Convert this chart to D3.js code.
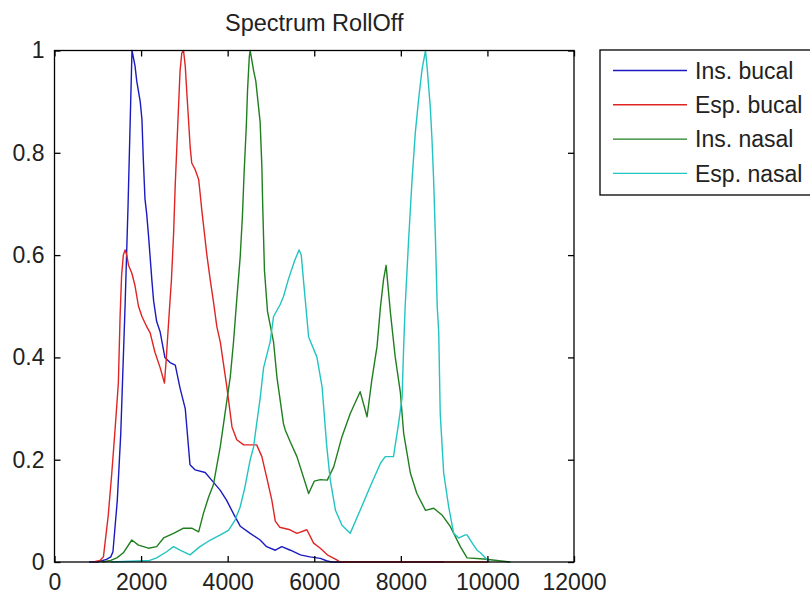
<!DOCTYPE html>
<html>
<head>
<meta charset="utf-8">
<script src="https://d3js.org/d3.v7.min.js"></script>
<style>
    body { margin: 0; background: #fff; }
    text { font-family: "Liberation Sans", Arial, sans-serif; fill: #222; }
</style>
</head>
<body>
<svg></svg>
<script>
    // values: [frequency, normalized value]
    let insBucal = [[800,0],[1000,0],[1200,0.005],[1300,0.01],[1350,0.02],[1450,0.12],[1530,0.25],[1630,0.5],[1700,0.7],[1790,1.0],[1860,0.97],[1900,0.94],[1980,0.9],[2020,0.865],[2050,0.79],[2090,0.71],[2130,0.68],[2170,0.64],[2250,0.55],[2290,0.51],[2360,0.47],[2440,0.45],[2550,0.4],[2670,0.39],[2790,0.385],[2900,0.34],[3020,0.3],[3130,0.19],[3250,0.18],[3480,0.175],[3630,0.16],[3830,0.14],[3980,0.12],[4130,0.095],[4290,0.07],[4520,0.056],[4750,0.043],[4900,0.03],[5100,0.023],[5250,0.03],[5450,0.023],[5680,0.014],[5900,0.01],[6140,0.007],[6300,0.002],[6400,0],[9000,0]];

    let espBucal = [[900,0],[1050,0.003],[1130,0.01],[1240,0.09],[1320,0.17],[1400,0.26],[1475,0.35],[1515,0.48],[1550,0.56],[1590,0.6],[1630,0.61],[1670,0.6],[1710,0.58],[1785,0.565],[1860,0.54],[1940,0.5],[2020,0.48],[2130,0.46],[2210,0.448],[2320,0.41],[2440,0.38],[2540,0.35],[2580,0.395],[2610,0.435],[2660,0.5],[2700,0.55],[2750,0.64],[2790,0.74],[2825,0.81],[2865,0.89],[2900,0.96],[2940,0.995],[2980,1.0],[3020,0.97],[3055,0.92],[3095,0.865],[3135,0.81],[3170,0.78],[3250,0.767],[3330,0.748],[3365,0.72],[3400,0.69],[3460,0.645],[3520,0.6],[3600,0.55],[3670,0.51],[3750,0.46],[3830,0.43],[3980,0.343],[4100,0.264],[4210,0.239],[4370,0.229],[4670,0.229],[4790,0.206],[4900,0.166],[5020,0.121],[5100,0.08],[5200,0.068],[5440,0.063],[5600,0.056],[5830,0.063],[5985,0.037],[6140,0.027],[6300,0.014],[6520,0.004],[6600,0],[10020,0]];

    let insNasal = [[1100,0],[1300,0.003],[1440,0.008],[1590,0.018],[1785,0.043],[1940,0.033],[2170,0.027],[2360,0.03],[2520,0.047],[2750,0.056],[2980,0.066],[3170,0.066],[3330,0.059],[3440,0.095],[3560,0.127],[3670,0.151],[3830,0.226],[3940,0.291],[4060,0.362],[4135,0.43],[4210,0.513],[4290,0.597],[4340,0.675],[4380,0.761],[4430,0.851],[4460,0.924],[4500,0.988],[4520,1.0],[4560,0.98],[4600,0.96],[4650,0.94],[4750,0.86],[4790,0.773],[4810,0.695],[4850,0.57],[4920,0.49],[5060,0.43],[5140,0.36],[5290,0.27],[5330,0.258],[5445,0.235],[5600,0.206],[5870,0.134],[6000,0.158],[6140,0.161],[6300,0.16],[6450,0.186],[6640,0.245],[6830,0.29],[7060,0.333],[7220,0.284],[7330,0.356],[7450,0.421],[7530,0.499],[7600,0.552],[7660,0.58],[7760,0.487],[7870,0.401],[7990,0.331],[8065,0.252],[8220,0.174],[8370,0.134],[8570,0.101],[8760,0.105],[8950,0.092],[9145,0.069],[9375,0.03],[9530,0.008],[9920,0.006],[10530,0]];

    let espNasal = [[1300,0],[2200,0.003],[2360,0.008],[2590,0.02],[2750,0.03],[2900,0.023],[3130,0.014],[3360,0.03],[3600,0.043],[3830,0.053],[4020,0.062],[4170,0.082],[4290,0.108],[4400,0.147],[4520,0.2],[4600,0.225],[4640,0.252],[4750,0.32],[4830,0.38],[4980,0.43],[5060,0.48],[5210,0.503],[5290,0.519],[5400,0.552],[5550,0.59],[5650,0.61],[5700,0.6],[5750,0.552],[5870,0.44],[6060,0.401],[6180,0.343],[6290,0.225],[6370,0.16],[6490,0.101],[6640,0.072],[6830,0.056],[7060,0.101],[7290,0.147],[7530,0.193],[7640,0.206],[7830,0.206],[7950,0.272],[8030,0.323],[8065,0.421],[8100,0.5],[8180,0.63],[8260,0.748],[8335,0.84],[8410,0.904],[8490,0.963],[8570,1.0],[8605,0.969],[8680,0.89],[8720,0.826],[8760,0.741],[8800,0.63],[8840,0.5],[8875,0.45],[8910,0.29],[8990,0.174],[9105,0.108],[9220,0.056],[9340,0.047],[9490,0.053],[9530,0.053],[9650,0.037],[9760,0.023],[9840,0.018],[10000,0.004],[10050,0]];

    let seriesNames = ["Ins. bucal", "Esp. bucal", "Ins. nasal", "Esp. nasal"];
    let seriesData = [insBucal, espBucal, insNasal, espNasal];
    let seriesColors = ["#1a1abf", "#e02424", "#1f7f1f", "#22c4c2"];
    let xTicks = [0, 2000, 4000, 6000, 8000, 10000, 12000];
    let yTicks = [0, 0.2, 0.4, 0.6, 0.8, 1];

    let width = 810, height = 595;
    let margin = { left: 54.5, top: 50.5, right: 236, bottom: 33 };
    let w = width - margin.left - margin.right,
        h = height - margin.top - margin.bottom;

    let svg = d3.select("svg")
        .attr("width", width)
        .attr("height", height);

    let g = svg.append("g")
        .attr("transform", "translate(" + margin.left + "," + margin.top + ")");

    let x = d3.scaleLinear().domain([0, 12000]).range([0, w]);
    let y = d3.scaleLinear().domain([0, 1]).range([h, 0]);

    // Title
    svg.append("text")
        .attr("x", margin.left + w / 2)
        .attr("y", 31)
        .attr("text-anchor", "middle")
        .style("font-size", "23.5px")
        .text("Spectrum RollOff");

    // Lines
    let line = d3.line()
        .x(d => x(d[0]))
        .y(d => y(d[1]));

    g.append("g")
        .selectAll("path")
        .data(seriesData)
        .enter()
        .append("path")
        .attr("fill", "none")
        .attr("stroke", (d, i) => seriesColors[i])
        .attr("stroke-width", 1.4)
        .attr("stroke-linejoin", "round")
        .attr("d", line);

    // Axes, ticks pointing inward on all sides
    let styleAxis = sel => {
        sel.select(".domain").remove();
        sel.selectAll("line").attr("stroke", "#000").attr("stroke-width", 1.3);
        sel.selectAll("text").style("font-size", "23px").attr("fill", "#222")
            .style("font-family", "'Liberation Sans', Arial, sans-serif");
    };

    g.append("g")
        .attr("transform", "translate(0," + h + ")")
        .call(d3.axisBottom(x).tickValues(xTicks).tickSize(-6).tickPadding(12).tickFormat(d3.format("d")))
        .call(styleAxis);

    g.append("g")
        .call(d3.axisTop(x).tickValues(xTicks).tickSize(-6).tickFormat(""))
        .call(styleAxis);

    g.append("g")
        .call(d3.axisLeft(y).tickValues(yTicks).tickSize(-6).tickPadding(10).tickFormat(d => d3.format("~g")(d)))
        .call(styleAxis);

    g.append("g")
        .attr("transform", "translate(" + w + ",0)")
        .call(d3.axisRight(y).tickValues(yTicks).tickSize(-6).tickFormat(""))
        .call(styleAxis);

    g.append("rect")
        .attr("width", w)
        .attr("height", h)
        .attr("fill", "none")
        .attr("stroke", "#000")
        .attr("stroke-width", 1.3);

    // Legend
    let legend = svg.append("g")
        .attr("transform", "translate(600,50)");

    legend.append("rect")
        .attr("width", 230)
        .attr("height", 145)
        .attr("fill", "#fff")
        .attr("stroke", "#000")
        .attr("stroke-width", 1.3);

    let item = legend.selectAll(".item")
        .data(seriesNames)
        .enter()
        .append("g")
        .attr("transform", (d, i) => "translate(0," + (20.5 + i * 34.3) + ")");

    item.append("line")
        .attr("x1", 13)
        .attr("x2", 87)
        .attr("stroke", (d, i) => seriesColors[i])
        .attr("stroke-width", 1.4);

    item.append("text")
        .attr("x", 95)
        .attr("dy", "0.36em")
        .style("font-size", "23px")
        .text(d => d);
</script>
</body>
</html>
